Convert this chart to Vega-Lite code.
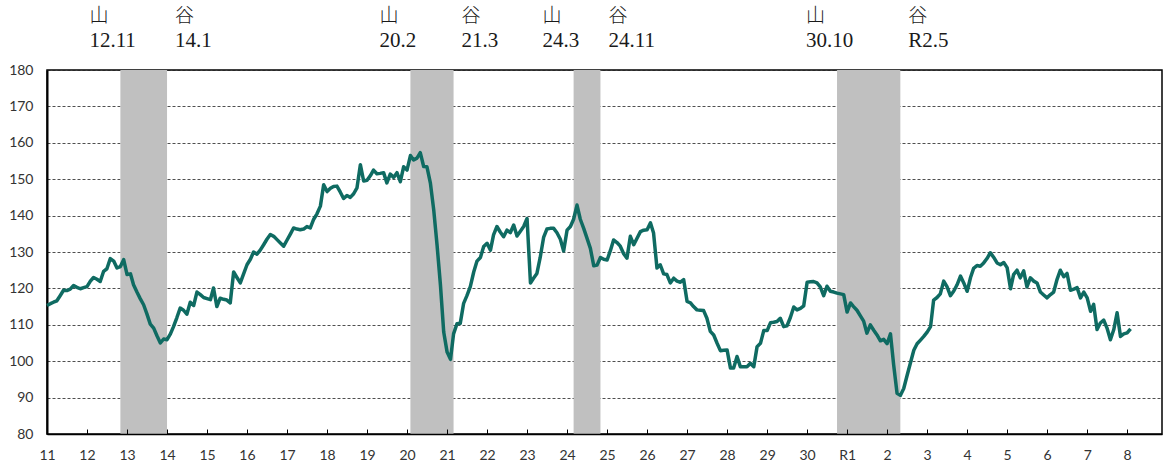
{
  "$schema": "https://vega.github.io/schema/vega-lite/v6.json",
  "width": 1115,
  "height": 364,
  "autosize": {"type": "none"},
  "padding": {"left": 47, "top": 70, "right": 1, "bottom": 35},
  "background": "white",
  "config": {
    "view": {"stroke": "#000000", "strokeWidth": 1.5}
  },
  "resolve": {"scale": {"y": "independent"}, "axis": {"y": "independent"}},
  "datasets": {
    "periods": [
      {"peak": "2000-11-01", "trough": "2002-01-01"},
      {"peak": "2008-02-01", "trough": "2009-03-01"},
      {"peak": "2012-03-01", "trough": "2012-11-01"},
      {"peak": "2018-10-01", "trough": "2020-05-01"}
    ],
    "turns": [
      {"month": "2000-11-01", "kind": "山", "label": "12.11"},
      {"month": "2002-01-01", "kind": "谷", "label": "14.1"},
      {"month": "2008-02-01", "kind": "山", "label": "20.2"},
      {"month": "2009-03-01", "kind": "谷", "label": "21.3"},
      {"month": "2012-03-01", "kind": "山", "label": "24.3"},
      {"month": "2012-11-01", "kind": "谷", "label": "24.11"},
      {"month": "2018-10-01", "kind": "山", "label": "30.10"},
      {"month": "2020-05-01", "kind": "谷", "label": "R2.5"}
    ],
    "series": [
      {"month":"1999-01-01","v":115.3},{"month":"1999-02-01","v":115.8},{"month":"1999-03-01","v":116.2},{"month":"1999-04-01","v":116.6},{"month":"1999-05-01","v":118.0},{"month":"1999-06-01","v":119.5},{"month":"1999-07-01","v":119.4},{"month":"1999-08-01","v":119.8},{"month":"1999-09-01","v":120.8},{"month":"1999-10-01","v":120.3},{"month":"1999-11-01","v":119.9},{"month":"1999-12-01","v":120.2},
      {"month":"2000-01-01","v":120.5},{"month":"2000-02-01","v":122.0},{"month":"2000-03-01","v":123.0},{"month":"2000-04-01","v":122.5},{"month":"2000-05-01","v":121.9},{"month":"2000-06-01","v":124.7},{"month":"2000-07-01","v":125.4},{"month":"2000-08-01","v":128.2},{"month":"2000-09-01","v":127.5},{"month":"2000-10-01","v":125.6},{"month":"2000-11-01","v":126.0},{"month":"2000-12-01","v":127.9},
      {"month":"2001-01-01","v":123.8},{"month":"2001-02-01","v":124.0},{"month":"2001-03-01","v":121.0},{"month":"2001-04-01","v":119.0},{"month":"2001-05-01","v":117.2},{"month":"2001-06-01","v":115.5},{"month":"2001-07-01","v":113.0},{"month":"2001-08-01","v":110.2},{"month":"2001-09-01","v":109.1},{"month":"2001-10-01","v":107.0},{"month":"2001-11-01","v":105.0},{"month":"2001-12-01","v":106.1},
      {"month":"2002-01-01","v":105.9},{"month":"2002-02-01","v":107.5},{"month":"2002-03-01","v":109.5},{"month":"2002-04-01","v":112.0},{"month":"2002-05-01","v":114.6},{"month":"2002-06-01","v":114.0},{"month":"2002-07-01","v":112.9},{"month":"2002-08-01","v":116.2},{"month":"2002-09-01","v":115.3},{"month":"2002-10-01","v":119.0},{"month":"2002-11-01","v":118.3},{"month":"2002-12-01","v":117.5},
      {"month":"2003-01-01","v":117.2},{"month":"2003-02-01","v":116.9},{"month":"2003-03-01","v":120.1},{"month":"2003-04-01","v":115.0},{"month":"2003-05-01","v":117.3},{"month":"2003-06-01","v":117.0},{"month":"2003-07-01","v":116.8},{"month":"2003-08-01","v":116.0},{"month":"2003-09-01","v":124.5},{"month":"2003-10-01","v":123.0},{"month":"2003-11-01","v":121.5},{"month":"2003-12-01","v":124.0},
      {"month":"2004-01-01","v":126.5},{"month":"2004-02-01","v":128.0},{"month":"2004-03-01","v":130.0},{"month":"2004-04-01","v":129.4},{"month":"2004-05-01","v":130.5},{"month":"2004-06-01","v":132.0},{"month":"2004-07-01","v":133.5},{"month":"2004-08-01","v":134.8},{"month":"2004-09-01","v":134.3},{"month":"2004-10-01","v":133.4},{"month":"2004-11-01","v":132.5},{"month":"2004-12-01","v":131.6},
      {"month":"2005-01-01","v":133.3},{"month":"2005-02-01","v":135.0},{"month":"2005-03-01","v":136.6},{"month":"2005-04-01","v":136.3},{"month":"2005-05-01","v":136.1},{"month":"2005-06-01","v":136.3},{"month":"2005-07-01","v":137.0},{"month":"2005-08-01","v":136.6},{"month":"2005-09-01","v":139.0},{"month":"2005-10-01","v":140.5},{"month":"2005-11-01","v":142.6},{"month":"2005-12-01","v":148.5},
      {"month":"2006-01-01","v":146.6},{"month":"2006-02-01","v":147.5},{"month":"2006-03-01","v":148.0},{"month":"2006-04-01","v":148.1},{"month":"2006-05-01","v":146.5},{"month":"2006-06-01","v":144.7},{"month":"2006-07-01","v":145.5},{"month":"2006-08-01","v":145.0},{"month":"2006-09-01","v":146.0},{"month":"2006-10-01","v":147.6},{"month":"2006-11-01","v":154.0},{"month":"2006-12-01","v":149.5},
      {"month":"2007-01-01","v":149.7},{"month":"2007-02-01","v":151.0},{"month":"2007-03-01","v":152.5},{"month":"2007-04-01","v":151.5},{"month":"2007-05-01","v":151.6},{"month":"2007-06-01","v":151.8},{"month":"2007-07-01","v":149.0},{"month":"2007-08-01","v":151.4},{"month":"2007-09-01","v":150.5},{"month":"2007-10-01","v":151.8},{"month":"2007-11-01","v":149.3},{"month":"2007-12-01","v":153.4},
      {"month":"2008-01-01","v":152.5},{"month":"2008-02-01","v":156.5},{"month":"2008-03-01","v":155.3},{"month":"2008-04-01","v":155.8},{"month":"2008-05-01","v":157.3},{"month":"2008-06-01","v":153.5},{"month":"2008-07-01","v":153.4},{"month":"2008-08-01","v":149.0},{"month":"2008-09-01","v":141.5},{"month":"2008-10-01","v":132.0},{"month":"2008-11-01","v":121.0},{"month":"2008-12-01","v":108.0},
      {"month":"2009-01-01","v":102.5},{"month":"2009-02-01","v":100.5},{"month":"2009-03-01","v":107.5},{"month":"2009-04-01","v":110.3},{"month":"2009-05-01","v":110.4},{"month":"2009-06-01","v":115.9},{"month":"2009-07-01","v":118.0},{"month":"2009-08-01","v":120.5},{"month":"2009-09-01","v":124.5},{"month":"2009-10-01","v":127.5},{"month":"2009-11-01","v":128.5},{"month":"2009-12-01","v":131.5},
      {"month":"2010-01-01","v":132.4},{"month":"2010-02-01","v":130.5},{"month":"2010-03-01","v":134.7},{"month":"2010-04-01","v":137.0},{"month":"2010-05-01","v":135.5},{"month":"2010-06-01","v":134.2},{"month":"2010-07-01","v":136.0},{"month":"2010-08-01","v":135.3},{"month":"2010-09-01","v":137.4},{"month":"2010-10-01","v":134.4},{"month":"2010-11-01","v":135.7},{"month":"2010-12-01","v":137.0},
      {"month":"2011-01-01","v":139.2},{"month":"2011-02-01","v":121.5},{"month":"2011-03-01","v":122.8},{"month":"2011-04-01","v":124.1},{"month":"2011-05-01","v":128.5},{"month":"2011-06-01","v":134.0},{"month":"2011-07-01","v":136.3},{"month":"2011-08-01","v":136.5},{"month":"2011-09-01","v":136.5},{"month":"2011-10-01","v":135.3},{"month":"2011-11-01","v":133.5},{"month":"2011-12-01","v":130.3},
      {"month":"2012-01-01","v":136.0},{"month":"2012-02-01","v":137.0},{"month":"2012-03-01","v":139.0},{"month":"2012-04-01","v":142.9},{"month":"2012-05-01","v":139.0},{"month":"2012-06-01","v":136.5},{"month":"2012-07-01","v":133.8},{"month":"2012-08-01","v":131.0},{"month":"2012-09-01","v":126.2},{"month":"2012-10-01","v":126.4},{"month":"2012-11-01","v":128.5},{"month":"2012-12-01","v":128.0},
      {"month":"2013-01-01","v":127.8},{"month":"2013-02-01","v":130.5},{"month":"2013-03-01","v":133.3},{"month":"2013-04-01","v":132.6},{"month":"2013-05-01","v":131.6},{"month":"2013-06-01","v":129.5},{"month":"2013-07-01","v":128.3},{"month":"2013-08-01","v":134.3},{"month":"2013-09-01","v":132.0},{"month":"2013-10-01","v":133.8},{"month":"2013-11-01","v":135.6},{"month":"2013-12-01","v":136.0},
      {"month":"2014-01-01","v":136.1},{"month":"2014-02-01","v":138.0},{"month":"2014-03-01","v":135.2},{"month":"2014-04-01","v":125.6},{"month":"2014-05-01","v":126.5},{"month":"2014-06-01","v":124.0},{"month":"2014-07-01","v":123.8},{"month":"2014-08-01","v":121.5},{"month":"2014-09-01","v":122.8},{"month":"2014-10-01","v":122.0},{"month":"2014-11-01","v":121.7},{"month":"2014-12-01","v":122.4},
      {"month":"2015-01-01","v":116.4},{"month":"2015-02-01","v":116.0},{"month":"2015-03-01","v":115.0},{"month":"2015-04-01","v":114.1},{"month":"2015-05-01","v":114.0},{"month":"2015-06-01","v":113.9},{"month":"2015-07-01","v":111.8},{"month":"2015-08-01","v":108.2},{"month":"2015-09-01","v":107.2},{"month":"2015-10-01","v":105.0},{"month":"2015-11-01","v":102.9},{"month":"2015-12-01","v":103.0},
      {"month":"2016-01-01","v":103.1},{"month":"2016-02-01","v":98.1},{"month":"2016-03-01","v":98.1},{"month":"2016-04-01","v":101.3},{"month":"2016-05-01","v":98.5},{"month":"2016-06-01","v":98.5},{"month":"2016-07-01","v":98.5},{"month":"2016-08-01","v":99.4},{"month":"2016-09-01","v":98.5},{"month":"2016-10-01","v":104.0},{"month":"2016-11-01","v":104.9},{"month":"2016-12-01","v":108.4},
      {"month":"2017-01-01","v":108.4},{"month":"2017-02-01","v":110.6},{"month":"2017-03-01","v":110.7},{"month":"2017-04-01","v":110.9},{"month":"2017-05-01","v":111.8},{"month":"2017-06-01","v":109.5},{"month":"2017-07-01","v":109.7},{"month":"2017-08-01","v":112.0},{"month":"2017-09-01","v":114.9},{"month":"2017-10-01","v":114.1},{"month":"2017-11-01","v":114.5},{"month":"2017-12-01","v":115.2},
      {"month":"2018-01-01","v":121.7},{"month":"2018-02-01","v":121.8},{"month":"2018-03-01","v":121.9},{"month":"2018-04-01","v":121.5},{"month":"2018-05-01","v":120.4},{"month":"2018-06-01","v":118.0},{"month":"2018-07-01","v":120.6},{"month":"2018-08-01","v":119.2},{"month":"2018-09-01","v":119.0},{"month":"2018-10-01","v":118.7},{"month":"2018-11-01","v":118.5},{"month":"2018-12-01","v":118.3},
      {"month":"2019-01-01","v":113.5},{"month":"2019-02-01","v":116.0},{"month":"2019-03-01","v":115.0},{"month":"2019-04-01","v":114.0},{"month":"2019-05-01","v":112.5},{"month":"2019-06-01","v":111.0},{"month":"2019-07-01","v":107.7},{"month":"2019-08-01","v":110.0},{"month":"2019-09-01","v":108.5},{"month":"2019-10-01","v":107.2},{"month":"2019-11-01","v":105.6},{"month":"2019-12-01","v":106.0},
      {"month":"2020-01-01","v":104.8},{"month":"2020-02-01","v":107.5},{"month":"2020-03-01","v":99.0},{"month":"2020-04-01","v":91.2},{"month":"2020-05-01","v":90.6},{"month":"2020-06-01","v":92.5},{"month":"2020-07-01","v":96.0},{"month":"2020-08-01","v":99.5},{"month":"2020-09-01","v":103.0},{"month":"2020-10-01","v":104.8},{"month":"2020-11-01","v":105.8},{"month":"2020-12-01","v":106.8},
      {"month":"2021-01-01","v":108.0},{"month":"2021-02-01","v":109.5},{"month":"2021-03-01","v":116.8},{"month":"2021-04-01","v":117.5},{"month":"2021-05-01","v":118.5},{"month":"2021-06-01","v":122.0},{"month":"2021-07-01","v":120.5},{"month":"2021-08-01","v":118.0},{"month":"2021-09-01","v":119.3},{"month":"2021-10-01","v":121.0},{"month":"2021-11-01","v":123.4},{"month":"2021-12-01","v":121.5},
      {"month":"2022-01-01","v":119.2},{"month":"2022-02-01","v":123.0},{"month":"2022-03-01","v":125.5},{"month":"2022-04-01","v":126.3},{"month":"2022-05-01","v":126.1},{"month":"2022-06-01","v":127.0},{"month":"2022-07-01","v":128.2},{"month":"2022-08-01","v":129.8},{"month":"2022-09-01","v":128.5},{"month":"2022-10-01","v":127.0},{"month":"2022-11-01","v":126.5},{"month":"2022-12-01","v":127.1},
      {"month":"2023-01-01","v":125.7},{"month":"2023-02-01","v":119.9},{"month":"2023-03-01","v":123.8},{"month":"2023-04-01","v":125.0},{"month":"2023-05-01","v":122.9},{"month":"2023-06-01","v":124.8},{"month":"2023-07-01","v":120.4},{"month":"2023-08-01","v":122.9},{"month":"2023-09-01","v":122.0},{"month":"2023-10-01","v":121.5},{"month":"2023-11-01","v":119.0},{"month":"2023-12-01","v":118.2},
      {"month":"2024-01-01","v":117.4},{"month":"2024-02-01","v":118.3},{"month":"2024-03-01","v":119.0},{"month":"2024-04-01","v":122.5},{"month":"2024-05-01","v":125.0},{"month":"2024-06-01","v":123.2},{"month":"2024-07-01","v":124.1},{"month":"2024-08-01","v":119.5},{"month":"2024-09-01","v":119.8},{"month":"2024-10-01","v":120.2},{"month":"2024-11-01","v":117.4},{"month":"2024-12-01","v":119.0},
      {"month":"2025-01-01","v":117.4},{"month":"2025-02-01","v":113.7},{"month":"2025-03-01","v":115.6},{"month":"2025-04-01","v":108.7},{"month":"2025-05-01","v":110.5},{"month":"2025-06-01","v":111.3},{"month":"2025-07-01","v":109.1},{"month":"2025-08-01","v":105.9},{"month":"2025-09-01","v":108.7},{"month":"2025-10-01","v":113.3},{"month":"2025-11-01","v":106.8},{"month":"2025-12-01","v":107.5},
      {"month":"2026-01-01","v":107.8},{"month":"2026-02-01","v":108.9}
    ]
  },
  "layer": [
    {
      "data": {"name": "periods"},
      "mark": {"type": "rect", "color": "#c0c0c0"},
      "encoding": {
        "x": {"field": "peak", "type": "temporal", "scale": {"type": "utc", "domain": ["1999-01-01", "2026-11-15"]}},
        "x2": {"field": "trough"}
      }
    },
    {
      "data": {"name": "series"},
      "mark": {"type": "line", "color": "#0f6b62", "strokeWidth": 3.5, "strokeJoin": "round"},
      "encoding": {
        "x": {
          "field": "month", "type": "temporal",
          "scale": {"type": "utc", "domain": ["1999-01-01", "2026-11-15"]},
          "axis": {
            "title": null,
            "tickCount": {"interval": "year", "step": 1},
            "labelExpr": "utcyear(datum.value) == 2019 ? 'R1' : '' + (utcyear(datum.value) > 2019 ? utcyear(datum.value) - 2018 : utcyear(datum.value) - 1988)",
            "grid": false,
            "domainColor": "#000000",
            "domainWidth": 1.5,
            "tickColor": "#000000",
            "tickSize": -5,
            "tickWidth": 1,
            "labelFont": "Lato",
            "labelFontSize": 14,
            "labelColor": "#333333",
            "labelPadding": 19,
            "labelFlush": false,
            "labelOverlap": false,
            "zindex": 1
          }
        },
        "y": {
          "field": "v", "type": "quantitative",
          "scale": {"domain": [80, 180], "nice": false, "zero": false},
          "axis": {
            "title": null,
            "values": [80, 90, 100, 110, 120, 130, 140, 150, 160, 170, 180],
            "labelOverlap": false,
            "grid": true,
            "gridColor": "#222222",
            "gridDash": [3, 2],
            "gridWidth": 0.8,
            "ticks": false,
            "domainColor": "#000000",
            "domainWidth": 2,
            "labelFont": "Lato",
            "labelFontSize": 14,
            "labelColor": "#333333",
            "labelPadding": 14
          }
        }
      }
    },
    {
      "data": {"name": "turns"},
      "transform": [{"filter": "datum.kind == '山'"}],
      "mark": {"type": "text", "font": "Liberation Serif", "fontSize": 21, "align": "left", "baseline": "alphabetic", "dx": -31, "color": "#1a1a1a"},
      "encoding": {
        "x": {"field": "month", "type": "temporal"},
        "y": {"datum": 186.3, "type": "quantitative", "scale": {"domain": [80, 180], "nice": false, "zero": false}, "axis": null},
        "text": {"field": "label"}
      }
    },
    {
      "data": {"name": "turns"},
      "transform": [{"filter": "datum.kind == '谷'"}],
      "mark": {"type": "text", "font": "Liberation Serif", "fontSize": 21, "align": "left", "baseline": "alphabetic", "dx": 8, "color": "#1a1a1a"},
      "encoding": {
        "x": {"field": "month", "type": "temporal"},
        "y": {"datum": 186.3, "type": "quantitative", "scale": {"domain": [80, 180], "nice": false, "zero": false}, "axis": null},
        "text": {"field": "label"}
      }
    },
    {
      "data": {"name": "turns"},
      "transform": [{"filter": "datum.kind == '山'"}],
      "mark": {"type": "text", "font": "Noto Sans CJK JP", "fontWeight": 300, "fontSize": 19, "align": "left", "baseline": "middle", "dx": -31, "color": "#1a1a1a"},
      "encoding": {
        "x": {"field": "month", "type": "temporal"},
        "y": {"datum": 194.8, "type": "quantitative", "scale": {"domain": [80, 180], "nice": false, "zero": false}, "axis": null},
        "text": {"field": "kind"}
      }
    },
    {
      "data": {"name": "turns"},
      "transform": [{"filter": "datum.kind == '谷'"}],
      "mark": {"type": "text", "font": "Noto Sans CJK JP", "fontWeight": 300, "fontSize": 19, "align": "left", "baseline": "middle", "dx": 8, "color": "#1a1a1a"},
      "encoding": {
        "x": {"field": "month", "type": "temporal"},
        "y": {"datum": 194.8, "type": "quantitative", "scale": {"domain": [80, 180], "nice": false, "zero": false}, "axis": null},
        "text": {"field": "kind"}
      }
    }
  ]
}
